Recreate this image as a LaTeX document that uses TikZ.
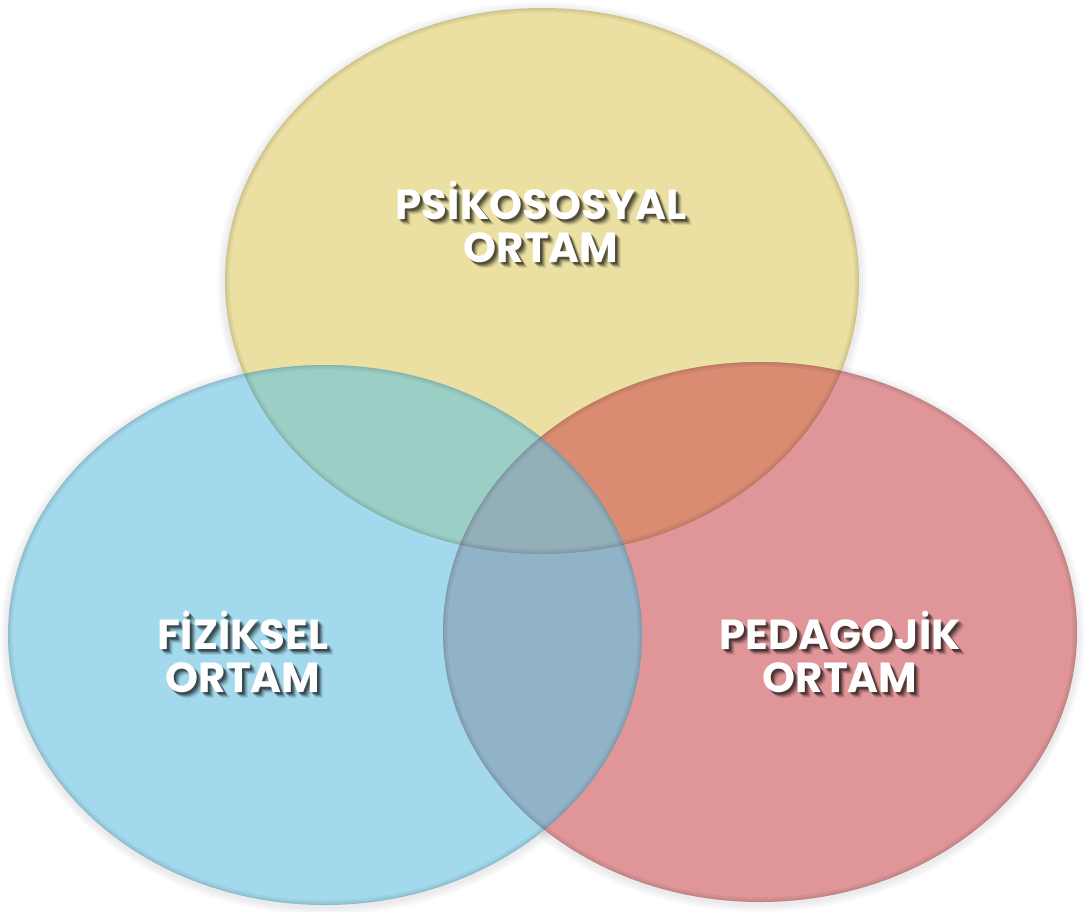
\documentclass[tikz,border=0pt]{standalone}
\usepackage{fontspec}
\setmainfont{Poppins}
\usetikzlibrary{calc}
\definecolor{ycol}{HTML}{EBE0A1}
\definecolor{bcol}{HTML}{A2D9EC}
\definecolor{rcol}{HTML}{E09698}
\definecolor{ybcol}{HTML}{9BCFC6}
\definecolor{yrcol}{HTML}{D98C72}
\definecolor{brcol}{HTML}{91B3C8}
\definecolor{ybrcol}{HTML}{93AFBA}
\tikzset{
  lbl/.style={font=\bfseries\fontsize{42}{43}\selectfont, text=white, align=center, inner sep=0pt},
  lblshadow/.style={lbl, text=black, text opacity=#1},
  rim/.style={draw=black, draw opacity=0.045, line width=#1}
}
\begin{document}
\begin{tikzpicture}[x=1pt,y=-1pt]
\useasboundingbox (0,0) rectangle (1084,911);
\fill[white] (0,0) rectangle (1084,911);
% soft outer shadows
\foreach \e in {2,4,6,8}{
  \fill[black, opacity=0.02] (542,283) ellipse [x radius=317+\e, y radius=273+\e];
  \fill[black, opacity=0.02] (325,637) ellipse [x radius=317+\e, y radius=270+\e];
  \fill[black, opacity=0.02] (760,634) ellipse [x radius=317+\e, y radius=270+\e];
}
% base fills
\fill[ycol] (542,281) ellipse [x radius=317, y radius=273];
\fill[bcol] (325,635) ellipse [x radius=317, y radius=270];
\fill[rcol] (760,632) ellipse [x radius=317, y radius=270];
% pairwise overlaps
\begin{scope}
  \clip (542,281) ellipse [x radius=317, y radius=273];
  \fill[ybcol] (325,635) ellipse [x radius=317, y radius=270];
  \fill[yrcol] (760,632) ellipse [x radius=317, y radius=270];
\end{scope}
\begin{scope}
  \clip (325,635) ellipse [x radius=317, y radius=270];
  \fill[brcol] (760,632) ellipse [x radius=317, y radius=270];
  \clip (760,632) ellipse [x radius=317, y radius=270];
  \fill[ybrcol] (542,281) ellipse [x radius=317, y radius=273];
\end{scope}
% inner rims
\foreach \w in {2,5,9}{
  \begin{scope}
    \clip (542,281) ellipse [x radius=317, y radius=273];
    \draw[rim=\w] (542,281) ellipse [x radius=317, y radius=273];
  \end{scope}
  \begin{scope}
    \clip (325,635) ellipse [x radius=317, y radius=270];
    \draw[rim=\w] (325,635) ellipse [x radius=317, y radius=270];
  \end{scope}
  \begin{scope}
    \clip (760,632) ellipse [x radius=317, y radius=270];
    \draw[rim=\w] (760,632) ellipse [x radius=317, y radius=270];
  \end{scope}
}
% labels with shadows
\foreach \dx/\dy/\op [count=\i] in {6/6/0.08,5/5/0.12,4/4/0.18,3/3/0.25,2/2/0.3}{
  \node[lblshadow=\op] (shp\i) at (541+\dx,222+\dy) {PSİKOSOSYAL\\ORTAM};
  \node[lblshadow=\op] (shf\i) at (243+\dx,652+\dy) {FİZİKSEL\\ORTAM};
  \node[lblshadow=\op] (shd\i) at (840+\dx,652+\dy) {PEDAGOJİK\\ORTAM};
}
\node[lbl] (psiko) at (541,222) {PSİKOSOSYAL\\ORTAM};
\node[lbl] (fiz) at (243,652) {FİZİKSEL\\ORTAM};
\node[lbl] (ped) at (840,652) {PEDAGOJİK\\ORTAM};
\end{tikzpicture}
\end{document}
